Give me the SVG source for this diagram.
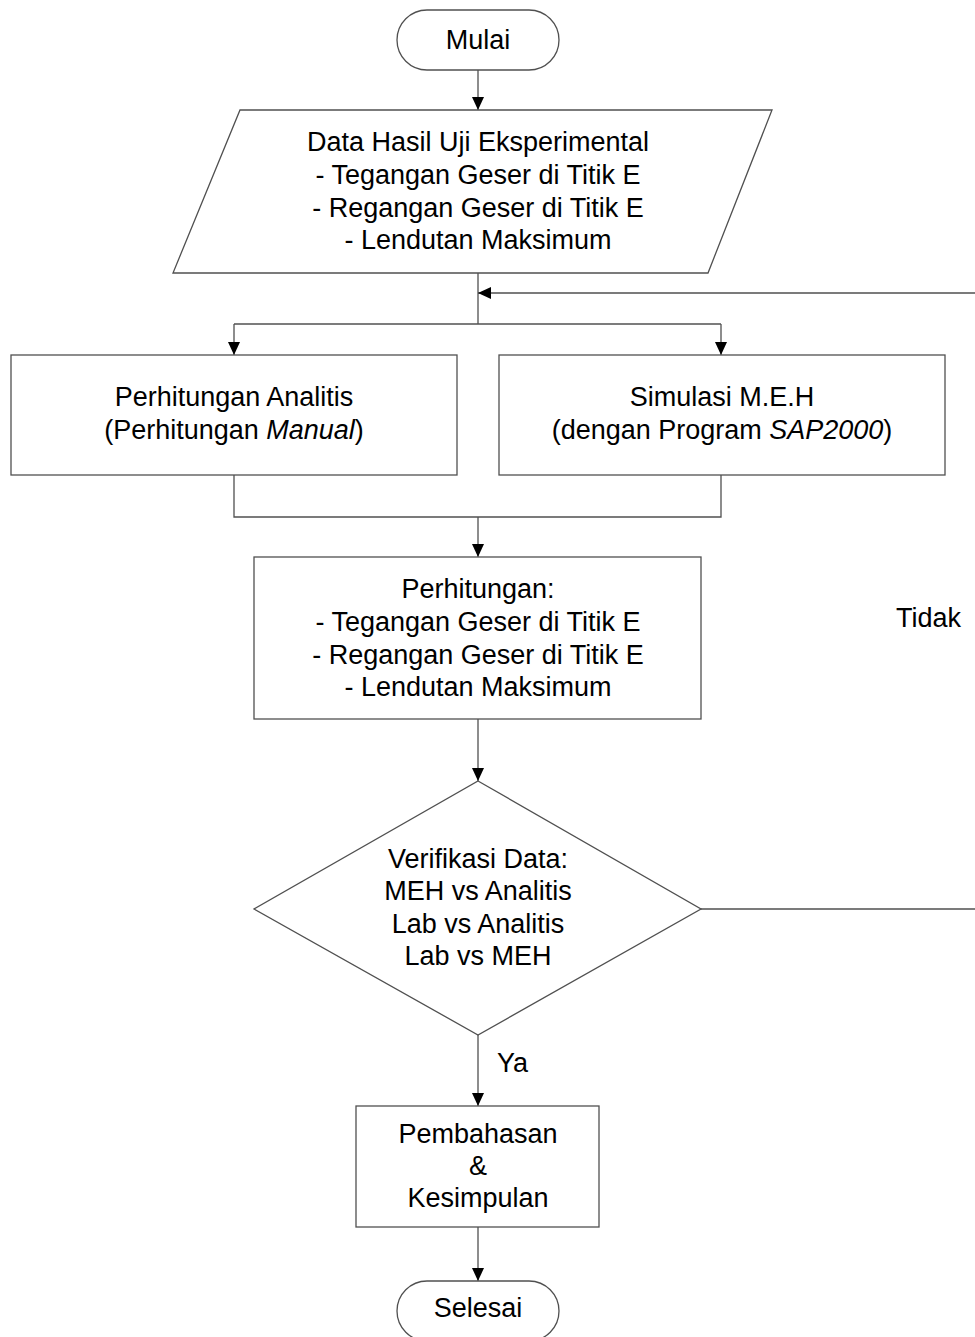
<svg xmlns="http://www.w3.org/2000/svg" width="975" height="1337" viewBox="0 0 975 1337">
<defs>
<marker id="ah" markerWidth="13" markerHeight="13" refX="13" refY="6.5" orient="auto" markerUnits="userSpaceOnUse">
<path d="M0,0.5 L13,6.5 L0,12.5 Z" fill="#000"/>
</marker>
<style>
.s{fill:#fff;stroke:#505050;stroke-width:1.3}
.c{fill:none;stroke:#505050;stroke-width:1.3}
.t{font-family:"Liberation Sans",Arial,sans-serif;font-size:27px;fill:#000;text-anchor:middle}
.l{font-family:"Liberation Sans",Arial,sans-serif;font-size:27px;fill:#000}
</style>
</defs>
<rect width="975" height="1337" fill="#fff"/>
<g id="connectors">
<path class="c" d="M478,70 V110" marker-end="url(#ah)"/>
<path class="c" d="M478,273 V324"/>
<path class="c" d="M234,324 H721"/>
<path class="c" d="M234,324 V355" marker-end="url(#ah)"/>
<path class="c" d="M721,324 V355" marker-end="url(#ah)"/>
<path class="c" d="M234,475 V517 H721 V475"/>
<path class="c" d="M478,517 V557" marker-end="url(#ah)"/>
<path class="c" d="M478,719 V781" marker-end="url(#ah)"/>
<path class="c" d="M701,909 H977 V293 H478" marker-end="url(#ah)"/>
<path class="c" d="M478,1035 V1106" marker-end="url(#ah)"/>
<path class="c" d="M478,1227 V1281" marker-end="url(#ah)"/>
<text class="l" x="896" y="627">Tidak</text>
<text class="l" x="497" y="1072">Ya</text>
</g>
<g id="mulai">
<rect class="s" x="397" y="10" width="162" height="60" rx="30" ry="30"/>
<text class="t" x="478" y="49">Mulai</text>
</g>
<g id="data">
<path class="s" d="M240,110 H772 L708,273 H173 Z"/>
<text class="t" x="478" y="151">Data Hasil Uji Eksperimental</text>
<text class="t" x="478" y="184">- Tegangan Geser di Titik E</text>
<text class="t" x="478" y="217">- Regangan Geser di Titik E</text>
<text class="t" x="478" y="249">- Lendutan Maksimum</text>
</g>
<g id="analitis">
<rect class="s" x="11" y="355" width="446" height="120"/>
<text class="t" x="234" y="406">Perhitungan Analitis</text>
<text class="t" x="234" y="439">(Perhitungan <tspan font-style="italic">Manual</tspan>)</text>
</g>
<g id="simulasi">
<rect class="s" x="499" y="355" width="446" height="120"/>
<text class="t" x="722" y="406">Simulasi M.E.H</text>
<text class="t" x="722" y="439">(dengan Program <tspan font-style="italic">SAP2000</tspan>)</text>
</g>
<g id="perhitungan">
<rect class="s" x="254" y="557" width="447" height="162"/>
<text class="t" x="478" y="598">Perhitungan:</text>
<text class="t" x="478" y="631">- Tegangan Geser di Titik E</text>
<text class="t" x="478" y="664">- Regangan Geser di Titik E</text>
<text class="t" x="478" y="696">- Lendutan Maksimum</text>
</g>
<g id="verifikasi">
<path class="s" d="M478,781 L701,909 L478,1035 L254,909 Z"/>
<text class="t" x="478" y="868">Verifikasi Data:</text>
<text class="t" x="478" y="900">MEH vs Analitis</text>
<text class="t" x="478" y="933">Lab vs Analitis</text>
<text class="t" x="478" y="965">Lab vs MEH</text>
</g>
<g id="pembahasan">
<rect class="s" x="356" y="1106" width="243" height="121"/>
<text class="t" x="478" y="1143">Pembahasan</text>
<text class="t" x="478" y="1175">&amp;</text>
<text class="t" x="478" y="1207">Kesimpulan</text>
</g>
<g id="selesai">
<rect class="s" x="397" y="1281" width="162" height="60" rx="30" ry="30"/>
<text class="t" x="478" y="1317">Selesai</text>
</g>
</svg>
